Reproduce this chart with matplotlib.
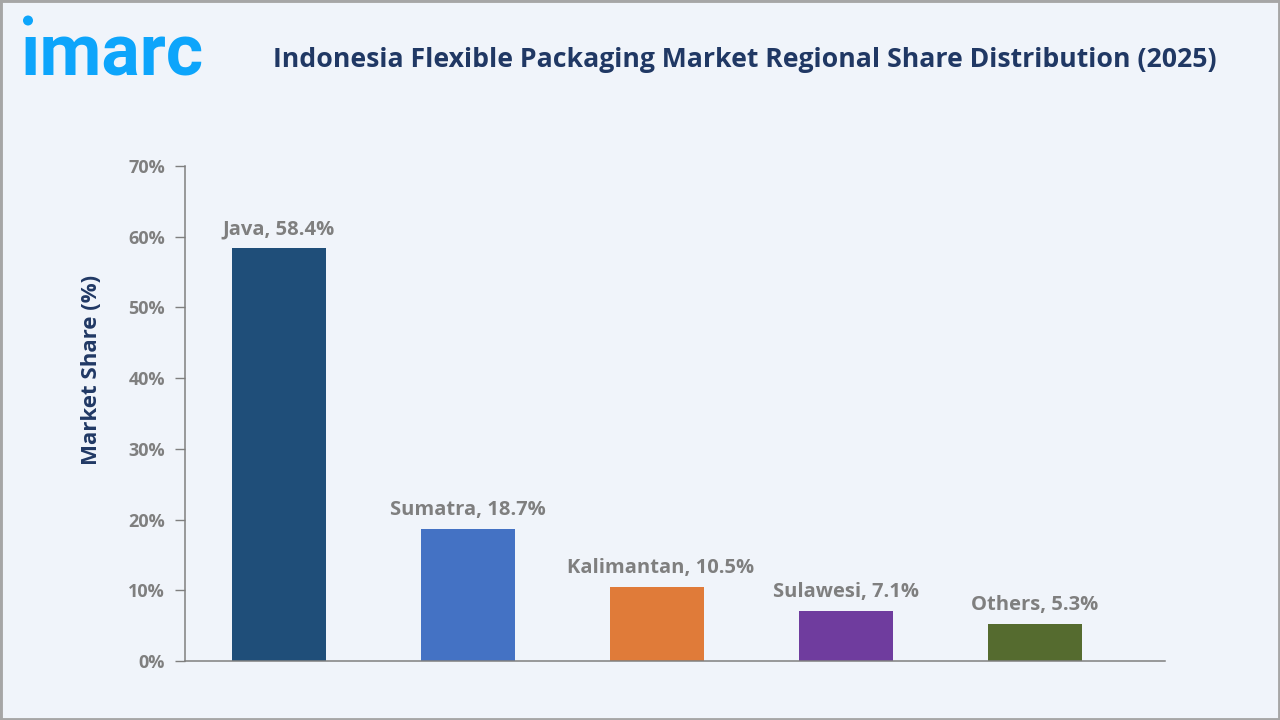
import matplotlib
matplotlib.use("Agg")
import matplotlib.pyplot as plt
from matplotlib.patches import Rectangle, Ellipse

regions = ["Java", "Sumatra", "Kalimantan", "Sulawesi", "Others"]
shares = [58.4, 18.7, 10.5, 7.1, 5.3]
bar_colors = ["#1F4E79", "#4472C4", "#E07B39", "#6F3C9E", "#556B2F"]
y_ticks = [0, 10, 20, 30, 40, 50, 60, 70]
title = "Indonesia Flexible Packaging Market Regional Share Distribution (2025)"
y_label = "Market Share (%)"

W, H = 1280, 720
BG = "#F0F4FA"
NAVY = "#203864"
GREY = "#7F7F7F"
FONT = ["Open Sans", "DejaVu Sans"]
plt.rcParams["font.family"] = FONT

fig = plt.figure(figsize=(W / 100, H / 100), dpi=100, facecolor=BG)
fig.add_artist(Rectangle((0, 0), 1, 1, transform=fig.transFigure, fill=False,
                         ec="#A6A6A6", lw=3.5))

L, R, T, B = 184.5, 1165, 166, 661
ax = fig.add_axes([L / W, 1 - B / H, (R - L) / W, (B - T) / H], facecolor="none")
ax.bar(range(len(regions)), shares, width=94 / 189, color=bar_colors)
ax.set_xlim(-0.5, 4.688)
ax.set_ylim(0, 70)
ax.set_yticks(y_ticks)
ax.set_yticklabels([f"{v}%" for v in y_ticks], fontsize=13, fontweight="bold", color=GREY)
ax.set_xticks([])
ax.tick_params(axis="y", length=7, width=1, color=GREY, pad=7)
for s in ("top", "right"):
    ax.spines[s].set_visible(False)
for s in ("left", "bottom"):
    ax.spines[s].set_color(GREY)
    ax.spines[s].set_linewidth(1.1)
ax.set_ylabel(y_label, fontsize=16, fontweight="bold", color=NAVY, labelpad=0)
ax.yaxis.set_label_coords((102 - L) / (R - L), (661 - 370) / 495)

label_dx = {"Kalimantan": 2.5}
for i, (r, v) in enumerate(zip(regions, shares)):
    ax.annotate(f"{r}, {v}%", (i, v), xytext=(label_dx.get(r, 0), 6), textcoords="offset points",
                ha="center", va="bottom", fontsize=14.5, fontweight="bold", color=GREY)

fig.text(745 / W, 1 - 60 / H, title, ha="center", va="center", fontsize=19.2,
         fontweight="bold", color=NAVY)

# logo: dotless i plus a separate dot, as in the wordmark
LOGO = "#0DA5FB"
fig.text(20 / W, 1 - 75 / H, "\u0131marc", ha="left", va="baseline", fontsize=51.5,
         fontweight="bold", color=LOGO, family=["Roboto", "DejaVu Sans"])
fig.add_artist(Ellipse((28 / W, 1 - 20.5 / H), 10 / W, 10 / H, transform=fig.transFigure,
                       color=LOGO, lw=0))

fig.savefig("out.png", dpi=100, facecolor=BG)
